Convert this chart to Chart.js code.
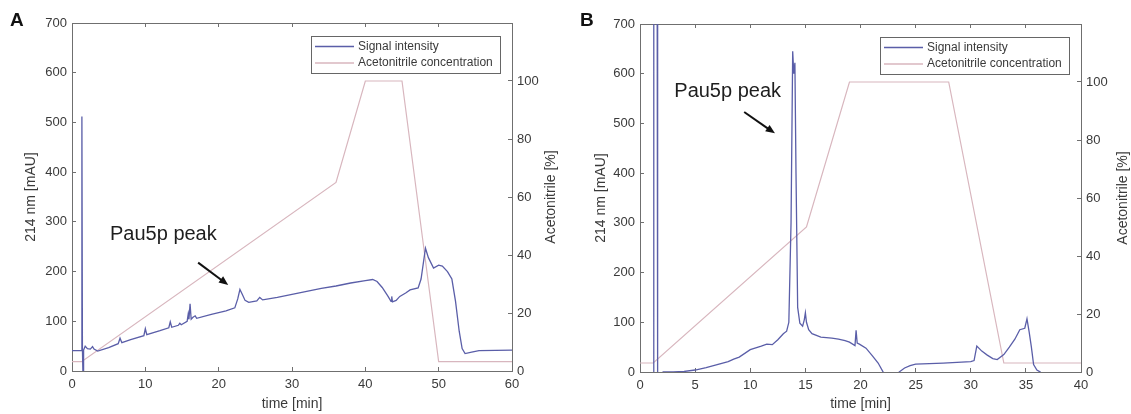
<!DOCTYPE html>
<html>
<head>
<meta charset="utf-8">
<script src="https://cdn.jsdelivr.net/npm/chart.js@4.4.0/dist/chart.umd.min.js"></script>
<style>
  html, body { margin: 0; padding: 0; background: #fff; }
  #wrap { position: relative; width: 1131px; height: 414px; }
  .panel { position: absolute; top: 0; height: 414px; }
  #panel-a { left: 0; width: 566px; }
  #panel-b { left: 566px; width: 565px; }
</style>
</head>
<body>
<div id="wrap">
  <div class="panel" id="panel-a"><canvas id="chart-a"></canvas></div>
  <div class="panel" id="panel-b"><canvas id="chart-b"></canvas></div>
</div>
<script>
// ---- panel A: 0-60 min run ----
const timeA = [0, 1.3, 1.35, 1.42, 1.5, 1.58, 1.8, 2.1, 2.5, 2.8, 3.0, 3.5, 5, 6.3, 6.55, 6.8, 8, 9.8, 10.0, 10.2,
  12, 13.2, 13.4, 13.6, 14.5, 14.7, 14.9, 15.7, 15.85, 15.95, 16.1, 16.25, 16.5, 16.8, 17.0, 19, 21, 22.2, 22.6, 22.9,
  23.2, 23.6, 24.1, 25.2, 25.6, 26.0, 28, 30, 32, 34, 36, 38, 40, 41, 41.6, 42.3, 43.1, 43.5, 43.6, 43.7,
  44.2, 44.7, 45.5, 46.1, 47.2, 47.6, 48.2, 48.6, 49.3, 50.0, 50.5, 51.2, 51.8, 52.3, 52.8, 53.2, 53.6, 54.5, 55.5, 60];
const signalA = [41, 41, 512, 45, -10, 42, 50, 45, 44, 49, 44, 40, 47, 55, 66, 57, 63, 71, 85, 73,
  81, 87, 99, 88, 92, 96, 93, 100, 115, 104, 135, 104, 108, 111, 106, 114, 121, 127, 145, 164,
  155, 142, 138, 141, 148, 143, 148, 154, 160, 166, 171, 177, 182, 184, 180, 168, 150, 140, 150, 139,
  142, 150, 157, 163, 167, 185, 247, 228, 207, 213, 211, 200, 185, 140, 80, 45, 35, 38, 41, 42];
const gradTimeA = [0, 1.3, 36, 40, 45, 50, 60];
const gradA = [3.2, 3.2, 65, 100, 100, 3.2, 3.2];
const xTicksA = [0, 10, 20, 30, 40, 50, 60];

// ---- panel B: 0-40 min run ----
const timeB = [1.2, 1.25, 1.55, 1.6, 2.05, 2.1, 3.0, 4.0, 5.0, 6.0, 7.0, 8.0, 8.5, 9.0, 10.0, 11.0, 11.5, 12.0, 12.5, 13.0,
  13.3, 13.5, 13.7, 13.85, 13.95, 14.05, 14.15, 14.3, 14.5, 14.75, 14.9, 15.0, 15.1, 15.3, 15.6, 16.4, 17.4, 18.0, 18.6, 19.0,
  19.5, 19.6, 19.7, 19.9, 20.5, 21.1, 21.6, 22.05, 22.1, 23.4, 23.5, 24.0, 24.5, 25.0, 27.5, 30.0, 30.3, 30.55, 31.0, 31.5,
  32.0, 32.4, 33.0, 33.5, 34.0, 34.45, 34.9, 35.1, 35.3, 35.5, 35.7, 36.0, 36.3, 36.5, 40];
const signalB = [-30, 900, 900, -30, -30, 0, 0, 1, 4, 9, 15, 21, 26, 30, 45, 52, 56, 55, 65, 77,
  82, 100, 300, 645, 600, 622, 400, 130, 98, 92, 105, 119, 100, 85, 77, 70, 68, 66, 63, 60,
  53, 84, 58, 56, 48, 32, 18, 0, -20, -20, 0, 8, 13, 16, 18, 21, 23, 52, 42, 34,
  27, 25, 35, 50, 66, 85, 88, 107, 80, 50, 15, 4, 0, -20, -20];
const gradTimeB = [0, 1.2, 15.1, 19, 28, 33, 40];
const gradB = [3.1, 3.1, 50, 100, 100, 3.1, 3.1];
const xTicksB = [0, 5, 10, 15, 20, 25, 30, 35, 40];

// shared axes
const leftTicks = [0, 100, 200, 300, 400, 500, 600, 700];
const rightTicks = [0, 20, 40, 60, 80, 100];

const FONT = "'Liberation Sans', Arial, Helvetica, sans-serif";
const SIGNAL_COLOR = "#5a5ea8";
const GRAD_COLOR = "#d8b6be";
const AXIS_COLOR = "#6f6f6f";
const TEXT_COLOR = "#3a3a3a";

function toPoints(xs, ys) {
  return xs.map((x, i) => ({ x: x, y: ys[i] }));
}

function tickList(values) {
  return (scale) => {
    scale.ticks = values.map((v) => ({ value: v }));
  };
}

const decorations = {
  id: "decorations",
  afterDraw(chart, args, opts) {
    const { ctx, chartArea, scales } = chart;
    const x = scales.x;
    const y = scales.y;

    ctx.save();
    // panel letter
    ctx.fillStyle = "#111";
    ctx.font = "bold 19px " + FONT;
    ctx.textAlign = "left";
    ctx.textBaseline = "alphabetic";
    ctx.fillText(opts.letter, opts.letterX, 26);

    // right axis title, reads upward like the left one
    ctx.save();
    ctx.translate(opts.rightTitleX, (chartArea.top + chartArea.bottom) / 2);
    ctx.rotate(-Math.PI / 2);
    ctx.font = "14px " + FONT;
    ctx.fillStyle = TEXT_COLOR;
    ctx.textAlign = "center";
    ctx.textBaseline = "middle";
    ctx.fillText(opts.rightTitle, 0, 0);
    ctx.restore();

    // peak note + arrow
    const note = opts.note;
    ctx.font = "20px " + FONT;
    ctx.fillStyle = "#1e1e1e";
    ctx.textAlign = "left";
    ctx.textBaseline = "middle";
    ctx.fillText(note.text, x.getPixelForValue(note.x), y.getPixelForValue(note.y));

    const x0 = x.getPixelForValue(note.from[0]);
    const y0 = y.getPixelForValue(note.from[1]);
    const x1 = x.getPixelForValue(note.to[0]);
    const y1 = y.getPixelForValue(note.to[1]);
    const ang = Math.atan2(y1 - y0, x1 - x0);
    const head = 10;
    ctx.strokeStyle = "#111";
    ctx.fillStyle = "#111";
    ctx.lineWidth = 2;
    ctx.beginPath();
    ctx.moveTo(x0, y0);
    ctx.lineTo(x1 - Math.cos(ang) * head * 0.8, y1 - Math.sin(ang) * head * 0.8);
    ctx.stroke();
    ctx.beginPath();
    ctx.moveTo(x1, y1);
    ctx.lineTo(x1 - head * Math.cos(ang - 0.4), y1 - head * Math.sin(ang - 0.4));
    ctx.lineTo(x1 - head * Math.cos(ang + 0.4), y1 - head * Math.sin(ang + 0.4));
    ctx.closePath();
    ctx.fill();

    // legend box inside the top right corner
    const boxW = 189;
    const boxH = 37;
    const bx = chartArea.right - 12 - boxW;
    const by = chartArea.top + 13;
    ctx.fillStyle = "#fff";
    ctx.fillRect(bx, by, boxW, boxH);
    ctx.strokeStyle = "#666";
    ctx.lineWidth = 1;
    ctx.strokeRect(bx + 0.5, by + 0.5, boxW, boxH);
    ctx.font = "12px " + FONT;
    ctx.textBaseline = "middle";
    chart.data.datasets.forEach((ds, i) => {
      const ry = by + 10.5 + i * 16.5;
      ctx.strokeStyle = ds.borderColor;
      ctx.lineWidth = 1.3;
      ctx.beginPath();
      ctx.moveTo(bx + 4, ry);
      ctx.lineTo(bx + 43, ry);
      ctx.stroke();
      ctx.fillStyle = TEXT_COLOR;
      ctx.fillText(ds.label, bx + 47, ry);
    });
    ctx.restore();
  },
};

function buildChart(id, p) {
  const ctx = document.getElementById(id).getContext("2d");
  const tickFont = { family: FONT, size: 13 };
  const titleFont = { family: FONT, size: 14 };
  const grid = { drawOnChartArea: false, drawTicks: true, tickLength: -4, color: AXIS_COLOR };
  const border = { display: true, color: AXIS_COLOR, width: 1 };

  return new Chart(ctx, {
    type: "line",
    data: {
      datasets: [
        {
          label: "Signal intensity",
          data: toPoints(p.time, p.signal),
          yAxisID: "y",
          borderColor: SIGNAL_COLOR,
          borderWidth: 1.3,
          pointRadius: 0,
          tension: 0,
        },
        {
          label: "Acetonitrile concentration",
          data: toPoints(p.gradTime, p.grad),
          yAxisID: "y2",
          borderColor: GRAD_COLOR,
          borderWidth: 1.2,
          pointRadius: 0,
          tension: 0,
        },
      ],
    },
    options: {
      responsive: true,
      maintainAspectRatio: false,
      animation: false,
      layout: { padding: 0 },
      plugins: {
        legend: { display: false },
        tooltip: { enabled: false },
        decorations: p.deco,
      },
      scales: {
        x: {
          type: "linear",
          position: "bottom",
          min: 0,
          max: p.xTicks[p.xTicks.length - 1],
          afterBuildTicks: tickList(p.xTicks),
          afterFit: (s) => { s.height = p.bottom; },
          grid: grid,
          border: border,
          ticks: { color: TEXT_COLOR, font: tickFont, padding: 10, maxRotation: 0, autoSkip: false },
          title: { display: true, text: "time [min]", color: TEXT_COLOR, font: titleFont, padding: { top: 0, bottom: 1 } },
        },
        xTop: {
          type: "linear",
          position: "top",
          min: 0,
          max: p.xTicks[p.xTicks.length - 1],
          afterBuildTicks: tickList(p.xTicks),
          afterFit: (s) => { s.height = p.top; },
          grid: grid,
          border: border,
          ticks: { display: false },
        },
        y: {
          type: "linear",
          position: "left",
          min: 0,
          max: 700,
          afterBuildTicks: tickList(leftTicks),
          afterFit: (s) => { s.width = p.left; },
          grid: grid,
          border: border,
          ticks: { color: TEXT_COLOR, font: tickFont, padding: 9 },
          title: { display: true, text: "214 nm [mAU]", color: TEXT_COLOR, font: titleFont, padding: { top: p.leftTitlePad, bottom: 0 } },
        },
        y2: {
          type: "linear",
          position: "right",
          min: 0,
          max: 120,
          afterBuildTicks: tickList(rightTicks),
          afterFit: (s) => { s.width = p.right; },
          grid: grid,
          border: border,
          ticks: { color: TEXT_COLOR, font: tickFont, padding: 9 },
        },
      },
    },
    plugins: [decorations],
  });
}

const chartA = buildChart("chart-a", {
  time: timeA, signal: signalA, gradTime: gradTimeA, grad: gradA, xTicks: xTicksA,
  left: 72, right: 54, top: 23, bottom: 43, leftTitlePad: 22.6,
  deco: {
    letter: "A", letterX: 10, rightTitle: "Acetonitrile [%]", rightTitleX: 551,
    note: { text: "Pau5p peak", x: 5.18, y: 274, from: [17.2, 218], to: [21.3, 173] },
  },
});

const chartB = buildChart("chart-b", {
  time: timeB, signal: signalB, gradTime: gradTimeB, grad: gradB, xTicks: xTicksB,
  left: 74, right: 50, top: 24, bottom: 42, leftTitlePad: 26.6,
  deco: {
    letter: "B", letterX: 14, rightTitle: "Acetonitrile [%]", rightTitleX: 557,
    note: { text: "Pau5p peak", x: 3.11, y: 565, from: [9.45, 523], to: [12.24, 480] },
  },
});
</script>
</body>
</html>
